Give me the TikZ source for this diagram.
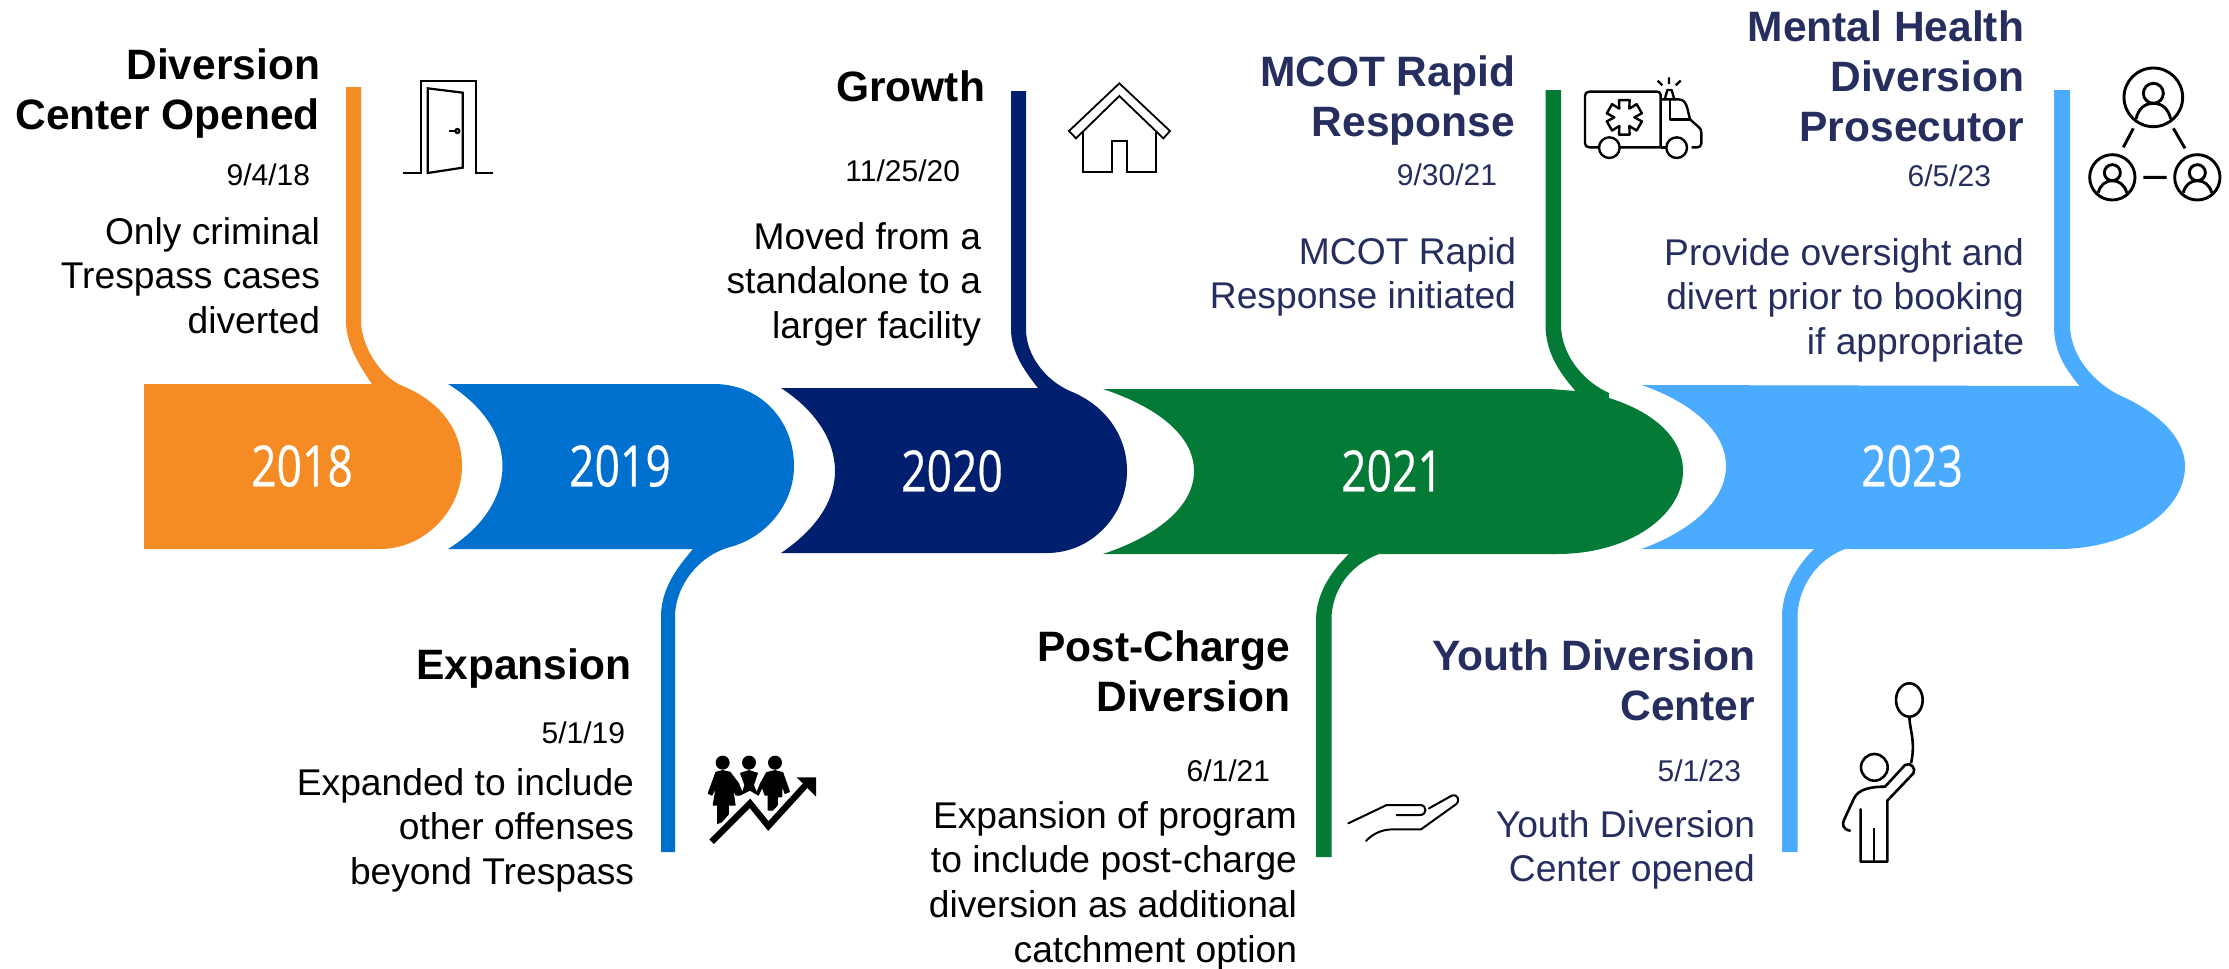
\documentclass[tikz,border=0pt]{standalone}
\usepackage{fontspec}
\setmainfont{Liberation Sans}
\newfontfamily\yrfont[FakeBold=0.4]{Open Sans}
\definecolor{cOrange}{RGB}{244,139,36}
\definecolor{cBlue}{RGB}{0,112,206}
\definecolor{cNavy}{RGB}{0,31,110}
\definecolor{cGreen}{RGB}{4,122,55}
\definecolor{cSky}{RGB}{74,171,255}
\definecolor{cInk}{RGB}{37,46,94}
\newcommand{\tpstrut}{\rule{0pt}{20pt}}
\tikzset{
  headblk/.style={anchor=north east,inner sep=0pt,outer sep=0pt,align=right,yshift=20pt,
    font=\fontsize{21.25pt}{25pt}\selectfont\bfseries},
  bodyblk/.style={anchor=north east,inner sep=0pt,outer sep=0pt,align=right,yshift=20pt,
    font=\fontsize{18.6pt}{22.4pt}\selectfont},
  datelbl/.style={anchor=base east,inner sep=0pt,outer sep=0pt,font=\fontsize{15pt}{17pt}\selectfont},
  yearlbl/.style={inner sep=0pt,outer sep=0pt,text=white,font=\fontsize{28.5pt}{30pt}\yrfont},
  icon/.style={x=0.16667pt,y=-0.16667pt,line width=#1,line join=miter,line cap=butt},
  icon/.default=1.3pt
}
\newcommand{\yearbox}[1]{\scalebox{.78}[1]{#1}}
\begin{document}
\begin{tikzpicture}[x=0.5pt,y=-0.5pt]
\useasboundingbox (0,0) rectangle (2229,969);
% bands with stems
\fill[cOrange] (144,384) -- (372,384) .. controls (355,360) and (346,340) .. (346,321) -- (346,87) -- (361,87) -- (361,321)
  .. controls (361,345) and (380,378) .. (405,387) .. controls (440,402) and (462,430) .. (462,466)
  .. controls (462,510) and (425,549) .. (380,549) -- (144,549) -- cycle;
\fill[cBlue] (448,384) -- (714,384) .. controls (760,384) and (794,420) .. (794,466)
  .. controls (794,505) and (765,538) .. (730,547) .. controls (700,555) and (675,585) .. (675,617)
  -- (675,852) -- (661,852) -- (661,617) .. controls (661,590) and (675,570) .. (693,549) -- (448,549)
  .. controls (482,528) and (502.5,498) .. (502.5,466) .. controls (502.5,434) and (482,405) .. (448,384) -- cycle;
\fill[cNavy] (781,388) -- (1038,388) .. controls (1022,368) and (1011,350) .. (1011,329) -- (1011,91) -- (1026,91) -- (1026,329)
  .. controls (1026,355) and (1045,380) .. (1070,391) .. controls (1105,405) and (1127,435) .. (1127,471)
  .. controls (1127,515) and (1092,553) .. (1047,553) -- (781,553)
  .. controls (815,530) and (835,502) .. (835,471) .. controls (835,440) and (815,410) .. (781,388) -- cycle;
\fill[cGreen] (1103,389) -- (1550,389) -- (1575.5,391) .. controls (1557,370) and (1545.5,350) .. (1545.5,325) -- (1545.5,90) -- (1561,90) -- (1561,325)
  .. controls (1561,355) and (1584,382) .. (1609,393) -- (1609,398) .. controls (1654,412) and (1683,438) .. (1683,471)
  .. controls (1683,515) and (1630,554) .. (1557,554) -- (1379,554) .. controls (1350,565) and (1331.5,590) .. (1331.5,620)
  -- (1331.5,857) -- (1316,857) -- (1316,620) .. controls (1316,595) and (1330,572) .. (1349,554) -- (1103,554)
  .. controls (1160,535) and (1194,505) .. (1194,471) .. controls (1194,437) and (1160,408) .. (1103,389) -- cycle;
\fill[cSky] (1641.5,385) -- (2079.5,386) .. controls (2063,366) and (2054,350) .. (2054,325) -- (2054,90) -- (2070,90) -- (2070,325)
  .. controls (2070,355) and (2093,382) .. (2119,395) .. controls (2158,412) and (2185,438) .. (2185,466)
  .. controls (2185,512) and (2128,549) .. (2058,549) -- (1845,549) .. controls (1815,560) and (1797.5,590) .. (1797.5,617)
  -- (1797.5,852) -- (1782,852) -- (1782,617) .. controls (1782,592) and (1795,568) .. (1814,549) -- (1641.5,549)
  .. controls (1693,530) and (1726,500) .. (1726,466) .. controls (1726,432) and (1693,403) .. (1641.5,385) -- cycle;
% years
\node[yearlbl] (y2018) at (302,466) {\yearbox{2018}};
\node[yearlbl] (y2019) at (620,466) {\yearbox{2019}};
\node[yearlbl] (y2020) at (952,471) {\yearbox{2020}};
\node[yearlbl] (y2021) at (1392,471) {\yearbox{2021}};
\node[yearlbl] (y2023) at (1912,466) {\yearbox{2023}};
% 2018
\node[headblk] (h1) at (320,79) {\tpstrut Diversion\\Center Opened};
\node[datelbl] (d1) at (310,185) {9/4/18};
\node[bodyblk] (b1) at (320,244) {\tpstrut Only criminal\\Trespass cases\\diverted};
% 2019
\node[headblk] (h2) at (631,679) {\tpstrut Expansion};
\node[datelbl] (d2) at (625,743) {5/1/19};
\node[bodyblk] (b2) at (634,795) {\tpstrut Expanded to include\\other offenses\\beyond Trespass};
% 2020
\node[headblk] (h3) at (985,101) {\tpstrut Growth};
\node[datelbl] (d3) at (960,181) {11/25/20};
\node[bodyblk] (b3) at (981,249) {\tpstrut Moved from a\\standalone to a\\larger facility};
% 2021
\node[headblk,text=cInk] (h4) at (1515,86) {\tpstrut MCOT Rapid\\Response};
\node[datelbl,text=cInk] (d4) at (1497,185) {9/30/21};
\node[bodyblk,text=cInk] (b4) at (1516,264) {\tpstrut MCOT Rapid\\Response initiated};
\node[headblk] (h5) at (1290,661) {\tpstrut Post-Charge\\Diversion};
\node[datelbl] (d5) at (1270,781) {6/1/21};
\node[bodyblk] (b5) at (1297,828) {\tpstrut Expansion of program\\to include post-charge\\diversion as additional\\catchment option};
% 2023
\node[headblk,text=cInk] (h6) at (2024,41) {\tpstrut Mental Health\\Diversion\\Prosecutor};
\node[datelbl,text=cInk] (d6) at (1991,186) {6/5/23};
\node[bodyblk,text=cInk] (b6) at (2024,265) {\tpstrut Provide oversight and\\divert prior to booking\\if appropriate};
\node[headblk,text=cInk] (h7) at (1755,670) {\tpstrut Youth Diversion\\Center};
\node[datelbl,text=cInk] (d7) at (1741,781) {5/1/23};
\node[bodyblk,text=cInk] (b7) at (1755,837) {\tpstrut Youth Diversion\\Center opened};
% door
\begin{scope}[shift={(380,50)},icon=1.1pt]
\draw (68,369) -- (122,369) -- (122,92) -- (287,92) -- (287,369) -- (340,369);
\draw (143,115) -- (248,128) -- (248,353) -- (143,369) -- cycle;
\draw (208,243) -- (228,243);
\draw (232,243) circle (6);
\end{scope}
% house
\begin{scope}[shift={(1050,70)},icon=0.9pt]
\draw (208,40) -- (360,183) -- (340,205) -- (208,78) -- (78,205) -- (57,183) -- cycle;
\draw (100,185) -- (100,307) -- (185,307) -- (185,212) -- (232,212) -- (232,307) -- (318,307) -- (318,185);
\end{scope}
% ambulance
\begin{scope}[shift={(1570,60)},icon=1.2pt,line join=round]
\draw (85,262) -- (58,262) .. controls (50,262) and (45,257) .. (45,250) -- (45,107) .. controls (45,100) and (50,95) .. (58,95) -- (262,95) .. controls (268,95) and (272,99) .. (272,105) -- (272,262) -- (152,262);
\draw (118,263) circle (31);
\draw (320,263) circle (31);
\draw (275,118) -- (325,118) .. controls (342,118) and (348,130) .. (352,145) -- (360,178) -- (388,203) .. controls (392,207) and (394,212) .. (394,218) -- (394,250) .. controls (394,258) and (388,262) .. (382,262) -- (365,262);
\draw (300,118) -- (300,178) -- (360,178);
\draw (272,262) -- (288,262);
\draw (285,115) -- (292,90) -- (305,90) -- (312,115);
\draw (297,52) -- (297,72) (263,62) -- (277,76) (332,62) -- (317,76);
\begin{scope}[shift={(163,172)}]
\draw (120:30) \foreach \a in {90,30,-30,-90,-150,-210} { -- (\a+17:54) -- (\a-17:54) -- (\a-30:30)} -- cycle;
\end{scope}
\end{scope}
% people network
\begin{scope}[shift={(2070,50)},icon=1.45pt]
\draw (250,142) circle (88);
\draw (250,130) circle (30);
\draw (198,207) .. controls (205,175) and (225,160) .. (250,160) .. controls (275,160) and (295,175) .. (302,207);
\draw (127,382) circle (68);
\draw (127,368) circle (24);
\draw (85,428) .. controls (90,405) and (107,392) .. (127,392) .. controls (147,392) and (164,405) .. (170,428);
\draw (382,382) circle (68);
\draw (382,368) circle (24);
\draw (340,428) .. controls (345,405) and (362,392) .. (382,392) .. controls (402,392) and (419,405) .. (425,428);
\draw (190,235) -- (160,292) (310,235) -- (345,295) (220,382) -- (290,382);
\end{scope}
% people with rising arrow
\begin{scope}[shift={(700,740)},icon=1.5pt]
\fill (68,68) circle (21) (147,68) circle (21) (225,68) circle (21);
\filldraw[line width=0.6pt,line join=round] (48,97) -- (68,92) -- (90,97) -- (115,130) -- (127,160) -- (135,135) -- (122,100) -- (147,92) -- (172,100) -- (160,135) -- (170,160) -- (182,130) -- (200,98) -- (225,92) -- (248,98) -- (268,155) -- (255,160) -- (245,130) -- (245,170) -- (232,170) -- (232,195) -- (218,210) -- (205,210) -- (205,165) -- (195,165) -- (187,140) -- (175,165) -- (150,150) -- (120,165) -- (108,165) -- (97,140) -- (105,195) -- (85,195) -- (85,222) -- (65,245) -- (53,250) -- (53,195) -- (40,195) -- (50,135) -- (36,165) -- (25,160) -- cycle;
\draw[white,line width=5pt] (35,305) -- (150,190) -- (205,258) -- (335,120);
\draw[line width=3.2pt] (35,305) -- (150,190) -- (205,258) -- (320,132);
\fill (290,112) -- (348,112) -- (348,170) -- cycle;
\end{scope}
% hand
\begin{scope}[shift={(1340,780)},icon=1pt,line cap=round,line join=round]
\draw (25,130) -- (140,75) -- (240,75) .. controls (262,75) and (262,105) .. (240,105) -- (170,105);
\draw (267,85) -- (335,47) .. controls (355,40) and (362,65) .. (345,75) -- (243,148) -- (160,148) .. controls (120,148) and (95,165) .. (78,183);
\end{scope}
% balloon child
\begin{scope}[shift={(1830,670)},icon=1.3pt,line join=round]
\draw (238,90) ellipse [x radius=40,y radius=50];
\draw (238,140) .. controls (238,175) and (258,215) .. (243,280);
\draw (133,292) circle (40);
\draw[line cap=round] (60,482) .. controls (38,478) and (36,462) .. (42,450) -- (72,385) .. controls (85,355) and (130,350) .. (165,350) -- (225,285) .. controls (240,275) and (260,295) .. (250,310) -- (172,392) -- (172,575) -- (92,575) -- (92,418);
\draw (132,475) -- (132,575);
\end{scope}
\end{tikzpicture}
\end{document}
